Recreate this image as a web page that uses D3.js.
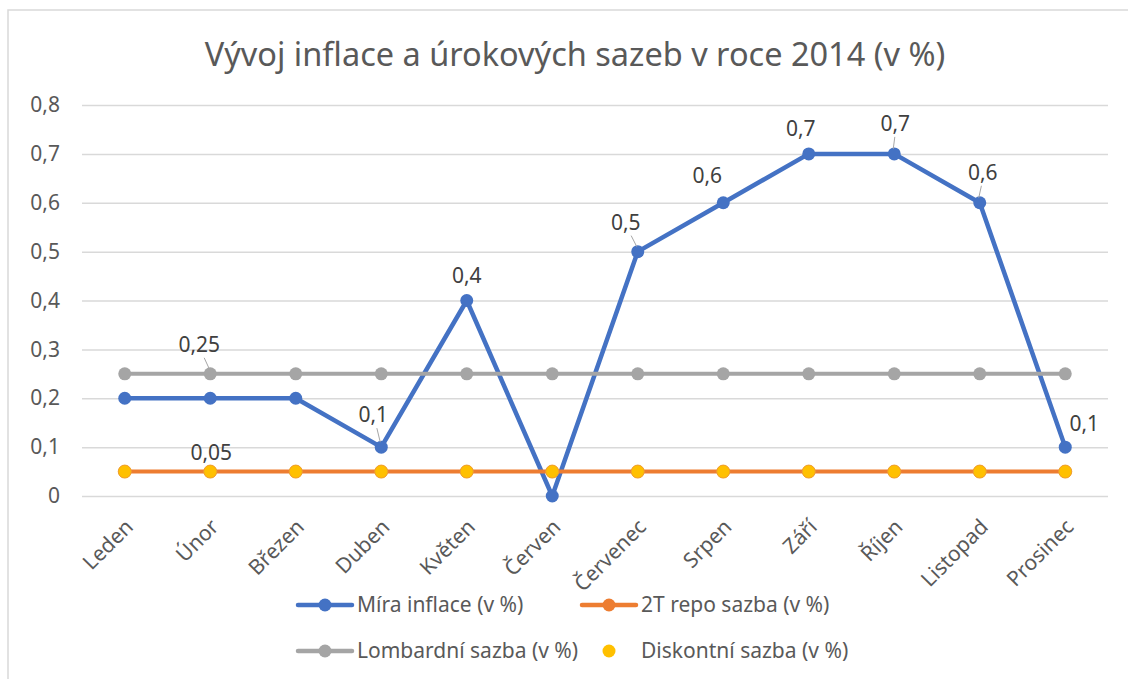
<!DOCTYPE html>
<html>
<head>
<meta charset="utf-8">
<script src="https://cdn.jsdelivr.net/npm/d3@7"></script>
<style>
    body { margin: 0; background: #fff; }
    text { font-family: 'Noto Sans', sans-serif; fill: #595959; }
</style>
</head>
<body>
<div id="svg"></div>
<script>
// data
var months = ['Leden', 'Únor', 'Březen', 'Duben', 'Květen', 'Červen',
    'Červenec', 'Srpen', 'Září', 'Říjen', 'Listopad', 'Prosinec'];
var inflace = [0.2, 0.2, 0.2, 0.1, 0.4, 0, 0.5, 0.6, 0.7, 0.7, 0.6, 0.1];
var repo = [0.05, 0.05, 0.05, 0.05, 0.05, 0.05, 0.05, 0.05, 0.05, 0.05, 0.05, 0.05];
var lombard = [0.25, 0.25, 0.25, 0.25, 0.25, 0.25, 0.25, 0.25, 0.25, 0.25, 0.25, 0.25];
var diskont = [0.05, 0.05, 0.05, 0.05, 0.05, 0.05, 0.05, 0.05, 0.05, 0.05, 0.05, 0.05];
var yTicks = [0, 0.1, 0.2, 0.3, 0.4, 0.5, 0.6, 0.7, 0.8];
var seriesNames = ['Míra inflace (v %)', '2T repo sazba (v %)', 'Lombardní sazba (v %)', 'Diskontní sazba (v %)'];

// which points carry a data label: [series, index, dx, dy, leader]
var labelled = [
    ['lombard', 1, -11, -29, true],
    ['repo', 1, 1, -19, false],
    ['inflace', 3, -8, -32, true],
    ['inflace', 4, 0, -25, false],
    ['inflace', 6, -12, -29, true],
    ['inflace', 7, -16, -27, false],
    ['inflace', 8, -8, -25, false],
    ['inflace', 9, 1, -30, true],
    ['inflace', 10, 3, -30, true],
    ['inflace', 11, 19, -23, false]
];

var width = 1128;
var height = 679;
var fontSize = '21px';
var colors = { inflace: '#4472c4', repo: '#ed7d31', lombard: '#a5a5a5', diskont: '#ffc000' };
var series = { inflace: inflace, repo: repo, lombard: lombard, diskont: diskont };

var x = d3.scalePoint().domain(months).range([82, 1108]).padding(0.5);
var y = d3.scaleLinear().domain([0, 0.8]).range([496, 105]);
var fmt = function (v) { return String(v).replace('.', ','); };

var svg = d3.select('#svg').append('svg')
    .attr('width', width)
    .attr('height', height);

// chart border
svg.append('rect')
    .attr('x', 8).attr('y', 10)
    .attr('width', width + 10).attr('height', height + 10)
    .attr('fill', '#fff')
    .attr('stroke', '#d9d9d9')
    .attr('stroke-width', 1.5);

// title
svg.append('text')
    .attr('x', 575)
    .attr('y', 55)
    .attr('dy', '0.35em')
    .style('text-anchor', 'middle')
    .style('font-size', '32.5px')
    .text('Vývoj inflace a úrokových sazeb v roce 2014 (v %)');

// grid + y axis
var yAxis = d3.axisLeft(y).tickValues(yTicks).tickSize(-(1108 - 82)).tickFormat(fmt);
var gy = svg.append('g').attr('transform', 'translate(82,0)').call(yAxis);
gy.select('.domain').remove();
gy.selectAll('.tick line').attr('stroke', '#d9d9d9').attr('stroke-width', 1.5);
gy.selectAll('.tick text')
    .attr('x', -22)
    .style('font-size', fontSize)
    .style('font-family', "'Noto Sans', sans-serif")
    .attr('fill', '#595959');

// x axis labels
var xAxis = d3.axisBottom(x).tickSize(0);
var gx = svg.append('g').attr('transform', 'translate(0,496)').call(xAxis);
gx.select('.domain').remove();
gx.selectAll('.tick text')
    .attr('fill', '#595959')
    .style('font-size', fontSize)
    .style('font-family', "'Noto Sans', sans-serif")
    .style('text-anchor', 'end')
    .attr('x', 0).attr('y', 0).attr('dy', '0.35em')
    .attr('transform', 'translate(4,27) rotate(-45)');

// lines and markers, drawn in series order
var line = d3.line().x(function (d, i) { return x(months[i]); }).y(function (d) { return y(d); });

['inflace', 'repo', 'lombard'].forEach(function (key) {
    svg.append('path')
        .datum(series[key])
        .attr('d', line)
        .attr('fill', 'none')
        .attr('stroke', colors[key])
        .attr('stroke-width', key === 'inflace' ? 4.5 : 4)
        .attr('stroke-linejoin', 'round');
    svg.selectAll('.m-' + key)
        .data(series[key])
        .enter().append('circle')
        .attr('cx', function (d, i) { return x(months[i]); })
        .attr('cy', function (d) { return y(d); })
        .attr('r', 6.5)
        .attr('fill', colors[key]);
});

svg.selectAll('.m-diskont')
    .data(diskont)
    .enter().append('circle')
    .attr('cx', function (d, i) { return x(months[i]); })
    .attr('cy', function (d) { return y(d); })
    .attr('r', 6.5)
    .attr('fill', colors.diskont)
    .attr('stroke', '#f0a030')
    .attr('stroke-width', 1);

// data labels
labelled.forEach(function (l) {
    var v = series[l[0]][l[1]];
    var px = x(months[l[1]]);
    var py = y(v);
    if (l[4]) {
        svg.append('line')
            .attr('x1', px + l[2] * 0.55).attr('y1', py + l[3] + 13)
            .attr('x2', px - 1).attr('y2', py - 5)
            .attr('stroke', '#a6a6a6')
            .attr('stroke-width', 1);
    }
    svg.append('text')
        .attr('x', px + l[2])
        .attr('y', py + l[3])
        .attr('dy', '0.35em')
        .style('text-anchor', 'middle')
        .style('font-size', fontSize)
        .style('fill', '#404040')
        .text(fmt(v));
});

// legend
var legendPos = [[298, 605], [582, 605], [298, 651], [582, 651]];
var keys = ['inflace', 'repo', 'lombard', 'diskont'];
keys.forEach(function (key, i) {
    var p = legendPos[i];
    var g = svg.append('g').attr('transform', 'translate(' + p[0] + ',' + p[1] + ')');
    if (key !== 'diskont') {
        g.append('line')
            .attr('x1', 0).attr('x2', 54)
            .attr('y1', 0).attr('y2', 0)
            .attr('stroke', colors[key])
            .attr('stroke-width', 4.5)
            .attr('stroke-linecap', 'round');
    }
    g.append('circle').attr('cx', 27).attr('cy', 0).attr('r', 6.5).attr('fill', colors[key]);
    g.append('text').attr('x', 59).attr('dy', '0.35em').style('font-size', fontSize).text(seriesNames[i]);
});
</script>
</body>
</html>
